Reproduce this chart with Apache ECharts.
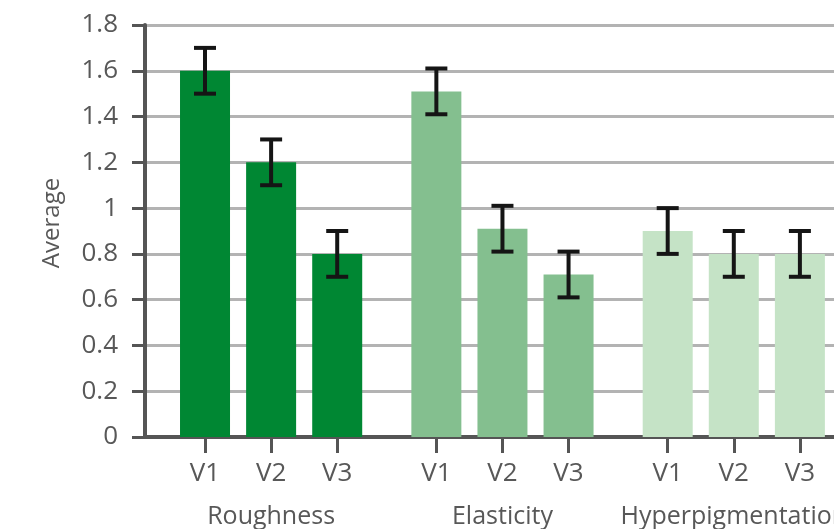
<!DOCTYPE html>
<html><head><meta charset="utf-8">
<script src="https://cdn.jsdelivr.net/npm/echarts@6/dist/echarts.min.js"></script>
<style>html,body{margin:0;padding:0;background:#fff}#c{width:834px;height:529px}</style>
</head><body><div id="c"></div>
<script>
const groups = ['Roughness', 'Elasticity', 'Hyperpigmentation'];
const visits = ['V1', 'V2', 'V3'];
const roughness = [1.6, 1.2, 0.8];
const elasticity = [1.51, 0.91, 0.71];
const hyperpigmentation = [0.9, 0.8, 0.8];
const roughnessErr = [0.1, 0.1, 0.1];
const elasticityErr = [0.1, 0.1, 0.1];
const hyperpigmentationErr = [0.1, 0.1, 0.1];
const yTicks = [0, 0.2, 0.4, 0.6, 0.8, 1, 1.2, 1.4, 1.6, 1.8];

const values = [roughness, elasticity, hyperpigmentation];
const errs = [roughnessErr, elasticityErr, hyperpigmentationErr];
const colors = ['#008733', '#84bf8f', '#c5e3c6'];
const groupStep = 3.5;

const barData = [], errData = [], tickPos = [], tickText = {}, groupPos = [], groupText = {};
groups.forEach((g, gi) => {
  visits.forEach((v, vi) => {
    const x = gi * groupStep + vi;
    barData.push({ value: [x, values[gi][vi]], itemStyle: { color: colors[gi] } });
    errData.push([x, values[gi][vi] - errs[gi][vi], values[gi][vi] + errs[gi][vi]]);
    tickPos.push(x);
    tickText[Math.round(x * 2)] = v;
  });
  const c = gi * groupStep + 1;
  groupPos.push(c);
  groupText[Math.round(c * 2)] = g;
});

const font = 'Open Sans';
const txt = '#585858';
const xMin = -0.908, xMax = 9.516;

const chart = echarts.init(document.getElementById('c'));
chart.setOption({
  animation: false,
  grid: { left: 145, right: 0, top: 25, bottom: 92, containLabel: false, outerBoundsMode: 'none' },
  xAxis: [{
    type: 'value', min: xMin, max: xMax,
    axisLine: { show: true, onZero: false, lineStyle: { color: '#555', width: 4 } },
    axisTick: { show: true, customValues: tickPos, length: 16, lineStyle: { color: '#555', width: 3 } },
    axisLabel: { customValues: tickPos, margin: 24, color: txt, fontFamily: font, fontSize: 26,
      formatter: v => tickText[Math.round(v * 2)] || '' },
    splitLine: { show: false }
  }, {
    type: 'value', min: xMin, max: xMax, position: 'bottom',
    axisLine: { show: false, onZero: false }, axisTick: { show: false },
    axisLabel: { customValues: groupPos, margin: 67, color: txt, fontFamily: font, fontSize: 25,
      formatter: v => groupText[Math.round(v * 2)] || '' },
    splitLine: { show: false }
  }],
  yAxis: {
    type: 'value', min: 0, max: 1.8, interval: 0.2,
    name: 'Average', nameLocation: 'middle', nameGap: 81, nameRotate: 90,
    nameTextStyle: { color: txt, fontFamily: font, fontSize: 24, padding: [0, 0, 0, 16] },
    axisLine: { show: true, onZero: false, lineStyle: { color: '#555', width: 4 } },
    axisTick: { show: true, length: 13, lineStyle: { color: '#555', width: 3 } },
    axisLabel: { margin: 27, color: txt, fontFamily: font, fontSize: 26,
      formatter: v => { const t = yTicks.find(y => Math.abs(y - v) < 1e-6); return t === undefined ? '' : String(t); } },
    splitLine: { show: true, lineStyle: { color: '#b3b3b3', width: 3 } }
  },
  series: [{
    type: 'bar', xAxisIndex: 0, barWidth: 50, data: barData, z: 2
  }, {
    type: 'custom', xAxisIndex: 0, z: 5, data: errData,
    renderItem: (params, api) => {
      const x = api.value(0);
      const lo = api.coord([x, api.value(1)]);
      const hi = api.coord([x, api.value(2)]);
      const hw = 11;
      const st = { stroke: '#151515', lineWidth: 4 };
      return { type: 'group', children: [
        { type: 'line', shape: { x1: hi[0], y1: hi[1], x2: lo[0], y2: lo[1] }, style: st },
        { type: 'line', shape: { x1: hi[0] - hw, y1: hi[1], x2: hi[0] + hw, y2: hi[1] }, style: st },
        { type: 'line', shape: { x1: lo[0] - hw, y1: lo[1], x2: lo[0] + hw, y2: lo[1] }, style: st }
      ] };
    }
  }]
});
</script></body></html>
